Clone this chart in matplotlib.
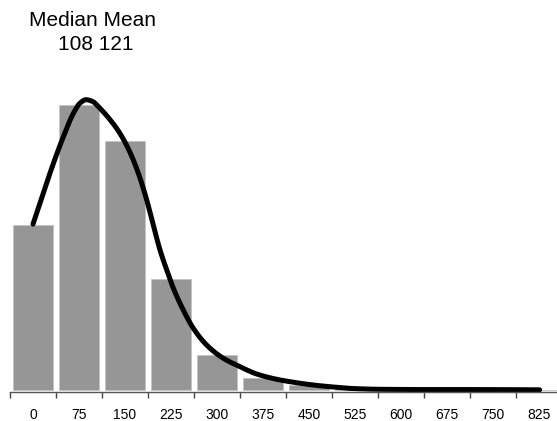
import numpy as np
import matplotlib
matplotlib.use("Agg")
import matplotlib.pyplot as plt
from matplotlib.ticker import FixedLocator

# Data
bin_centers = [0, 75, 150, 225, 300, 375, 450, 525, 600, 675, 750, 825]
bar_pct = [19.1, 33.0, 28.8, 12.9, 4.1, 1.35, 0.58, 0.12, 0.0, 0.0, 0.0, 0.0]
tick_labels = ["0", "75", "150", "225", "300", "375", "450", "525", "600", "675", "750", "825"]

curve_x = [0, 16.8, 33.1, 49.4, 65.7, 76.6, 86.4, 97.0, 109.2, 125.5, 141.8, 158.2, 171.7,
           185.4, 196.1, 207.1, 218.0, 228.7, 245.0, 261.4, 283.2, 310.3, 337.5, 364.7,
           397.3, 429.9, 456.5, 489.0, 521.7, 565.8, 647, 730, 826]
curve_y = [19.2, 22.8, 26.2, 29.3, 32.0, 33.2, 33.6, 33.4, 32.6, 31.3, 29.7, 27.5, 25.1,
           22.0, 19.1, 16.2, 13.9, 11.8, 9.26, 7.14, 5.2, 3.67, 2.70, 1.85,
           1.24, 0.84, 0.58, 0.35, 0.17, 0.08, 0.05, 0.05, 0.02]

stat_header = "Median Mean"
stat_values = "108 121"

plt.rcParams['font.family'] = ['Liberation Sans', 'DejaVu Sans']

W, H = 557, 421
fig = plt.figure(figsize=(W / 100, H / 100), dpi=100)

px_per_unit = 8.64
base_px = 391.7
top_px = 91.7
ax = fig.add_axes([10 / W, (H - base_px) / H, (W - 10) / W, (base_px - top_px) / H])

ax.bar(bin_centers, bar_pct, width=63.6, color="#969696", edgecolor="#c4c4c4", linewidth=0.6)


def pchip(xs, ys, n=25):
    x = np.asarray(xs, float); y = np.asarray(ys, float)
    h = np.diff(x); d = np.diff(y) / h
    m = np.zeros_like(y)
    for k in range(1, len(x) - 1):
        if d[k - 1] * d[k] > 0:
            w1 = 2 * h[k] + h[k - 1]; w2 = h[k] + 2 * h[k - 1]
            m[k] = (w1 + w2) / (w1 / d[k - 1] + w2 / d[k])
    m[0] = d[0]; m[-1] = d[-1]
    ox, oy = [], []
    t = np.linspace(0, 1, n, endpoint=False)
    for k in range(len(x) - 1):
        h00 = 2 * t**3 - 3 * t**2 + 1; h10 = t**3 - 2 * t**2 + t
        h01 = -2 * t**3 + 3 * t**2; h11 = t**3 - t**2
        ox.extend(x[k] + t * h[k])
        oy.extend(h00 * y[k] + h10 * h[k] * m[k] + h01 * y[k + 1] + h11 * h[k] * m[k + 1])
    ox.append(x[-1]); oy.append(y[-1])
    return np.array(ox), np.array(oy)


sx, sy = pchip(curve_x, curve_y)
ax.plot(sx, sy, color="black", linewidth=3.6, solid_capstyle="round", clip_on=False)

x_left = (10 - 33) / 46 * 75
x_right = (W - 33) / 46 * 75
ax.set_xlim(x_left, x_right)
ax.set_ylim(-(base_px - 390) / px_per_unit, (390 - top_px) / px_per_unit)

for s in ["left", "right", "top"]:
    ax.spines[s].set_visible(False)
ax.spines["bottom"].set_color("#555555")
ax.spines["bottom"].set_linewidth(1.0)
ax.set_yticks([])

ax.xaxis.set_major_locator(FixedLocator(bin_centers))
ax.set_xticklabels(tick_labels, fontsize=10)
ax.xaxis.set_minor_locator(FixedLocator([c - 37.5 for c in bin_centers]))
ax.tick_params(axis="x", which="major", length=0, pad=12)
ax.tick_params(axis="x", which="minor", length=4, width=1.0, color="#444444", direction="out")

fig.text(92.5 / W, 1 - 20 / H, stat_header, ha="center", va="center", fontsize=15)
fig.text(95.5 / W, 1 - 45 / H, stat_values, ha="center", va="center", fontsize=15)

fig.savefig("out.png", dpi=100)
